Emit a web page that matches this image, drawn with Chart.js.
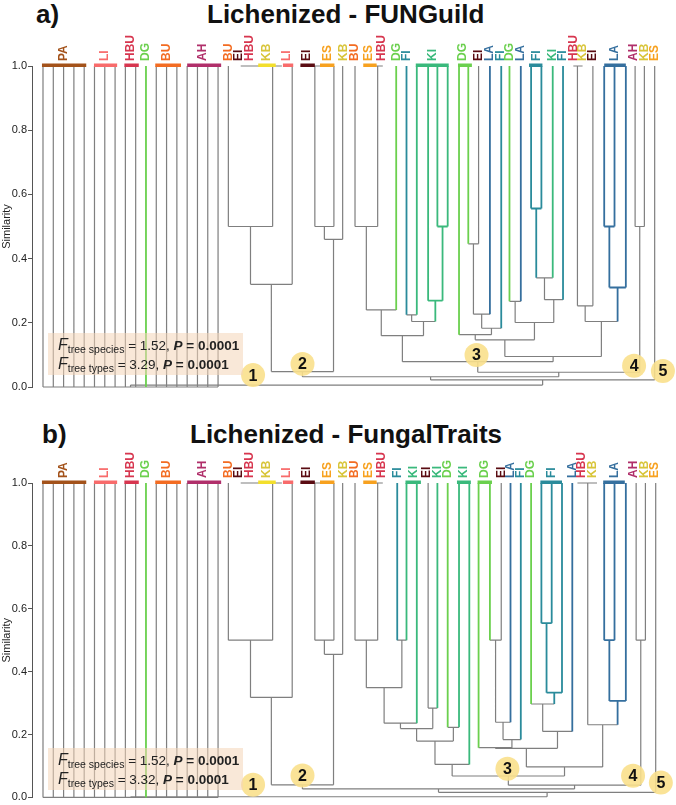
<!DOCTYPE html>
<html>
<head>
<meta charset="utf-8">
<script src="https://cdn.jsdelivr.net/npm/chart.js@4.4.1/dist/chart.umd.min.js"></script>
<style>
  body { margin: 0; background: #fff; font-family: "Liberation Sans", Arial, sans-serif; }
  #wrap { position: relative; width: 676px; height: 805px; overflow: hidden; }
  canvas { position: absolute; left: 0; }
  .ttl { position: absolute; font-weight: bold; font-size: 26px; color: #111; line-height: 26px; white-space: nowrap; }
  .stat { position: absolute; width: 185px; height: 39px; padding: 3px 0 0 10px;
          background: rgba(244, 214, 184, 0.55); font-size: 13.5px; line-height: 18px; color: #222; white-space: nowrap; }
  .stat i.F { font-size: 16px; }
  .stat sub { font-size: 10.5px; line-height: 0; vertical-align: -3px; }
</style>
</head>
<body>
<div id="wrap">
  <div class="ttl" style="left:36px;top:1px">a)</div>
  <div class="ttl" style="left:207px;top:1px">Lichenized - FUNGuild</div>
  <div class="ttl" style="left:42px;top:421px">b)</div>
  <div class="ttl" style="left:190px;top:421px">Lichenized - FungalTraits</div>
  <canvas id="ca" width="676" height="400" style="top:0"></canvas>
  <canvas id="cb" width="676" height="405" style="top:400px"></canvas>
  <div class="stat" style="left:48px;top:333px">
    <div><i class="F">F</i><sub>tree species</sub> = 1.52, <b><i>P</i> = 0.0001</b></div>
    <div><i class="F">F</i><sub>tree types</sub> = 3.29, <b><i>P</i> = 0.0001</b></div>
  </div>
  <div class="stat" style="left:48px;top:748px">
    <div><i class="F">F</i><sub>tree species</sub> = 1.52, <b><i>P</i> = 0.0001</b></div>
    <div><i class="F">F</i><sub>tree types</sub> = 3.32, <b><i>P</i> = 0.0001</b></div>
  </div>
</div>
<script>
// colours per tree type
const typeColors = {PA:"#a3521a", LI:"#f86b6b", HBU:"#d7364f", DG:"#6bd04e", BU:"#f36c22", AH:"#b02f6a",
                    EI:"#5a0c12", KB:"#d8c53a", ES:"#f7a11f", FI:"#2a8b9b", KI:"#3ab97c", LA:"#356f9e"};
const lineTypes = ["DG", "KI", "FI", "LA"]; // branch lines drawn in colour
const GRAY = "#7f7f7f";

// ---------- a) FUNGuild ----------
const labelsA = ["PA","LI","HBU","DG","BU","AH","BU","EI","HBU","KB","LI","EI","ES","KB","BU","ES","HBU",
  "DG","FI","KI","DG","EI","LA","FI","DG","LA","FI","KI","FI","HBU","KB","EI","LA","AH","KB","ES"];
const labelPosA = [2,6,8.5,10,12,15.5,18,19,20.1,21.7,23.7,25.6,27.6,29.2,30.3,31.6,32.9,
  34.3,35.3,37.8,40.8,42.3,43.4,44.4,45.3,46.4,47.9,49.5,50.5,51.5,52.4,53.4,55.5,57.4,58.4,59.4];
const barsA = [["PA",-0.1,4.2],["LI",4.95,7.2],["HBU",7.9,9.3],["BU",10.9,13.4],["AH",14,17.3],["KB",20.9,22.6],
  ["LI",23.3,24.3],["EI",25,26.4],["ES",26.9,28.3],["ES",31.1,32.4],["KI",36.2,39.4],["DG",40.3,41.65],
  ["FI",47.2,48.5],["LA",54.5,56.6]];
const leafTypeA = ["PA","PA","PA","PA","PA","LI","LI","LI","HBU","HBU","DG","BU","BU","BU","AH","AH","AH","AH",
  "BU","KB","LI","EI","ES","KB","BU","HBU","DG","FI","KI","KI","KI","KI","DG","DG","EI","LA","FI","DG","LA",
  "FI","FI","KI","FI","KB","EI","LA","LA","LA","AH","KB","ES"];
const leafXA = [0,1,2,3,4,5,6,7,8,9,10,11,12,13,14,15,16,17,
  18,22.3,24.2,26.4,28.25,29.1,30.3,32.5,34.3,35.3,36.3,37.4,38.3,39.3,40.4,41.3,42.3,43.4,
  44.5,45.3,46.4,47.4,48.4,49.5,50.5,51.9,53.4,54.5,55.5,56.6,57.5,58.4,59.4];
const spansA = [[19,19.2,23.2],[21,25.0,27.2],[25,31.6,33.0],[43,51.5,52.4]];
const mergesA = [
  [[0,1,2,3,4,5,6,7,8,9,10,11,12,13,14,15,16,17], 0],
  [[18,19],0.5], [["m1",20],0.32], [[21,22],0.5], [["m3",23],0.46], [["m2","m4"],0.048],
  [[24,25],0.5], [["m6",26],0.24], [[27,28],0.225], [[30,31],0.5], [[29,"m9"],0.269],
  [["m8","m10"],0.204], [["m7","m11"],0.16], [[33,34],0.446], [["m13",35],0.227], [["m14",36],0.183],
  [[32,"m15"],0.163], [[37,38],0.267], [[39,40],0.556], [["m18",41],0.34], [["m19",42],0.272],
  [["m17","m20"],0.201], [["m16","m21"],0.147], [[43,44],0.253], [[45,46],0.5], [["m24",47],0.31],
  [["m23","m25"],0.204], [["m22","m26"],0.095], [["m12","m27"],0.079], [[48,49],0.5],
  [["m28","m29"],0.046], [["m5","m30"],0.032], [["m31",50],0.022], [["m0","m32"],0.006]];
const groupsA = [[1,20.4,0.037],[2,25.2,0.072],[3,42.1,0.1],[4,57.4,0.066],[5,60.2,0.05]];

// ---------- b) FungalTraits ----------
const labelsB = ["PA","LI","HBU","DG","BU","AH","BU","EI","HBU","KB","LI","EI","ES","KB","BU","ES","HBU",
  "FI","KI","EI","KI","DG","KI","DG","EI","LA","FI","DG","FI","LA","HBU","KB","LA","AH","KB","ES"];
const labelPosB = [2,6,8.5,10,12,15.5,18,19,20.1,21.7,23.7,25.6,27.6,29.2,30.3,31.6,32.9,
  34.4,36.0,37.3,38.3,39.3,40.9,42.9,44.5,45.4,46.4,47.4,49.4,51.4,52.3,53.4,55.5,57.4,58.4,59.4];
const barsB = [["PA",-0.1,4.2],["LI",4.95,7.2],["HBU",7.9,9.3],["BU",10.9,13.4],["AH",14,17.3],["KB",20.9,22.6],
  ["LI",23.3,24.3],["EI",25,26.4],["ES",26.9,28.3],["ES",31.1,32.4],["KI",35.2,36.7],["KI",40.2,41.55],
  ["DG",42.2,43.6],["FI",48.3,50.4],["LA",54.4,56.5]];
const leafTypeB = ["PA","PA","PA","PA","PA","LI","LI","LI","HBU","HBU","DG","BU","BU","BU","AH","AH","AH","AH",
  "BU","KB","LI","EI","ES","KB","BU","HBU","FI","KI","KI","EI","KI","DG","KI","KI","DG","DG","EI","LA","FI",
  "DG","FI","FI","FI","LA","KB","LA","LA","LA","AH","KB","ES"];
const leafXB = [0,1,2,3,4,5,6,7,8,9,10,11,12,13,14,15,16,17,
  18,22.3,24.2,26.4,28.25,29.1,30.3,32.5,34.4,35.3,36.3,37.4,38.3,39.3,40.4,41.4,42.3,43.4,
  44.5,45.4,46.4,47.4,48.4,49.4,50.4,51.4,52.9,54.5,55.5,56.6,57.6,58.5,59.5];
const spansB = [[19,19.2,23.2],[21,25.0,27.2],[25,31.6,33.0],[44,51.9,53.8]];
const mergesB = [
  [[0,1,2,3,4,5,6,7,8,9,10,11,12,13,14,15,16,17], 0],
  [[18,19],0.5], [["m1",20],0.318], [[21,22],0.5], [["m3",23],0.455], [["m2","m4"],0.04],
  [[24,25],0.5], [[26,27],0.5], [["m6","m7"],0.349], [["m8",28],0.236], [[29,30],0.284],
  [["m9","m10"],0.219], [[31,32],0.223], [["m11","m12"],0.179], [["m13",33],0.105], [[35,36],0.5],
  [["m15",37],0.239], [["m16",38],0.184], [[34,"m17"],0.158], [[40,41],0.554], [["m19",42],0.333],
  [[39,"m20"],0.297], [["m21",43],0.21], [["m18","m22"],0.156], [[45,46],0.5], [["m24",47],0.307],
  [[44,"m25"],0.231], [["m23","m26"],0.097], [["m14","m27"],0.068], [[48,49],0.5],
  [["m28","m29"],0.039], [["m5","m30"],0.027], [["m31",50],0.016], [["m0","m32"],0.002]];
const groupsB = [[1,20.4,0.04],[2,25.2,0.07],[3,45.1,0.091],[4,57.3,0.069],[5,60.0,0.047]];

const yTicks = [0, 0.2, 0.4, 0.6, 0.8, 1.0];

function lineColor(t) {
  return lineTypes.includes(t) ? typeColors[t] : GRAY;
}

// turn the tree into line segments, grouped by colour
function buildDatasets(leafX, leafType, spans, merges) {
  const leaves = leafX.map((x, i) => ({ x: x, h: 1, col: lineColor(leafType[i]) }));
  const nodes = [];
  const segs = [];
  const get = (r) => (typeof r === "number" ? leaves[r] : nodes[+r.slice(1)]);
  merges.forEach(([kids, h]) => {
    const ch = kids.map(get);
    const xs = ch.map((c) => c.x);
    const lo = Math.min(...xs), hi = Math.max(...xs);
    const cols = new Set(ch.map((c) => c.col));
    const col = cols.size === 1 ? ch[0].col : GRAY;
    ch.forEach((c) => segs.push([c.x, c.h, c.x, h, c.col]));
    segs.push([lo, h, hi, h, col]);
    nodes.push({ x: (lo + hi) / 2, h: h, col: col });
  });
  spans.forEach(([i, a, b]) => segs.push([a, 1, b, 1, GRAY]));

  const byCol = {};
  segs.forEach(([x1, y1, x2, y2, c]) => {
    (byCol[c] = byCol[c] || []).push({ x: x1, y: y1 }, { x: x2, y: y2 }, { x: x2, y: null });
  });
  return Object.keys(byCol).map((c) => ({
    data: byCol[c],
    borderColor: c,
    borderWidth: c === GRAY ? 1.2 : 1.8,
    pointRadius: 0,
    tension: 0,
    spanGaps: false,
    clip: false,
    order: c === GRAY ? 2 : 1,
  }));
}

function decorPlugin(labels, labelPos, bars, groups) {
  return {
    id: "decor",
    afterDatasetsDraw(chart) {
      const { ctx, chartArea, scales } = chart;
      const x = scales.x, y = scales.y;
      ctx.save();
      bars.forEach(([t, a, b]) => {
        ctx.fillStyle = t === "KB" ? "#f3df2c" : typeColors[t];
        const x1 = x.getPixelForValue(a), x2 = x.getPixelForValue(b);
        ctx.fillRect(x1, chartArea.top - 2.5, x2 - x1, 3.5);
      });
      ctx.font = 'bold 12px "Liberation Sans", Arial, sans-serif';
      ctx.textBaseline = "middle";
      ctx.textAlign = "left";
      labels.forEach((t, i) => {
        ctx.save();
        ctx.translate(x.getPixelForValue(labelPos[i]), chartArea.top - 5);
        ctx.rotate(-Math.PI / 2);
        ctx.fillStyle = typeColors[t];
        ctx.fillText(t, 0, 0);
        ctx.restore();
      });
      groups.forEach(([n, gx, gy]) => {
        const px = x.getPixelForValue(gx), py = y.getPixelForValue(gy);
        ctx.beginPath();
        ctx.arc(px, py, 12, 0, Math.PI * 2);
        ctx.fillStyle = "rgba(250, 224, 140, 0.9)";
        ctx.fill();
        ctx.fillStyle = "#111";
        ctx.font = 'bold 16px "Liberation Sans", Arial, sans-serif';
        ctx.textAlign = "center";
        ctx.fillText(String(n), px, py + 1);
      });
      ctx.restore();
    },
  };
}

function makeChart(id, padTop, padBottom, leafX, leafType, spans, merges, labels, labelPos, bars, groups) {
  const ctx = document.getElementById(id).getContext("2d");
  return new Chart(ctx, {
    type: "line",
    data: { datasets: buildDatasets(leafX, leafType, spans, merges) },
    options: {
      responsive: false,
      animation: false,
      devicePixelRatio: 1,
      layout: { padding: { left: 0, right: 10, top: padTop, bottom: padBottom } },
      scales: {
        x: { type: "linear", min: -1.068, max: 60.5, display: false },
        y: {
          min: 0,
          max: 1,
          afterFit: (s) => { s.width = 32; },
          afterBuildTicks: (s) => { s.ticks = yTicks.map((v) => ({ value: v })); },
          grid: { drawOnChartArea: false, drawTicks: true, tickLength: 4, color: "#555" },
          border: { display: true, color: "#555", width: 1 },
          ticks: {
            padding: 1,
            color: "#222",
            font: { family: '"Liberation Sans", Arial, sans-serif', size: 11 },
            callback: (v) => Number(v).toFixed(1),
          },
          title: {
            display: true,
            text: "Similarity",
            color: "#222",
            padding: { top: 0, bottom: 0 },
            font: { family: '"Liberation Sans", Arial, sans-serif', size: 11 },
          },
        },
      },
      plugins: { legend: { display: false }, tooltip: { enabled: false } },
    },
    plugins: [decorPlugin(labels, labelPos, bars, groups)],
  });
}

makeChart("ca", 66, 13, leafXA, leafTypeA, spansA, mergesA, labelsA, labelPosA, barsA, groupsA);
makeChart("cb", 83, 5, leafXB, leafTypeB, spansB, mergesB, labelsB, labelPosB, barsB, groupsB);
</script>
</body>
</html>
